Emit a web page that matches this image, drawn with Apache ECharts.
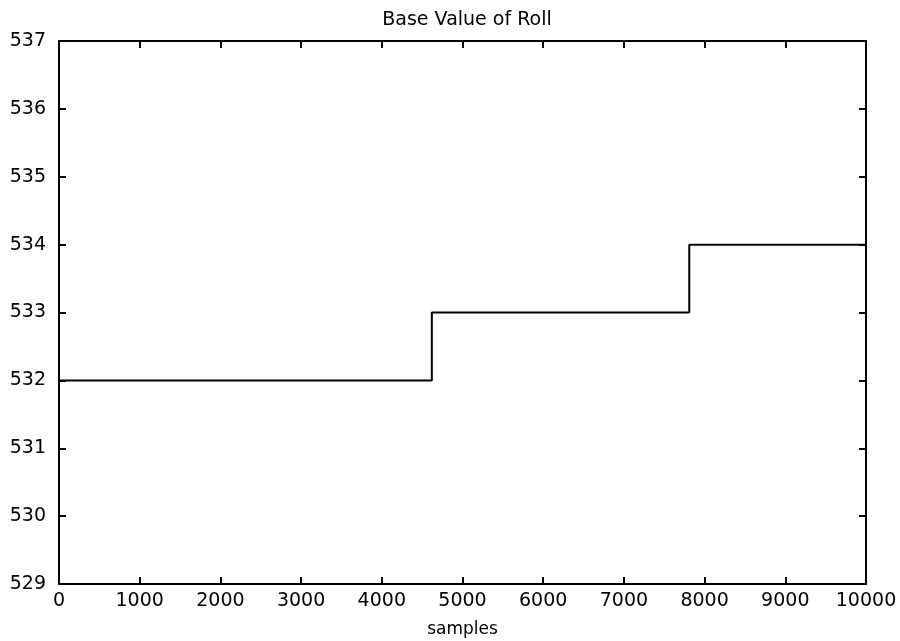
<!DOCTYPE html>
<html>
<head>
<meta charset="utf-8">
<script src="https://cdn.jsdelivr.net/npm/echarts@6/dist/echarts.min.js"></script>
<style>
html,body{margin:0;padding:0;background:#fff;}
#chart{width:900px;height:641px;}
</style>
</head>
<body>
<div id="chart"></div>
<script>
const chartTitle = "Base Value of Roll";
const xAxisName = "samples";
const stepSamples = [0, 4620, 7810, 10000];
const baseValues = [532, 533, 534, 534];
const xTicks = [0, 1000, 2000, 3000, 4000, 5000, 6000, 7000, 8000, 9000, 10000];
const yTicks = [529, 530, 531, 532, 533, 534, 535, 536, 537];

const chart = echarts.init(document.getElementById('chart'), null, {renderer: 'canvas'});
const fontFam = 'DejaVu Sans, sans-serif';
const axisLine = {show: true, onZero: false, lineStyle: {color: '#000', width: 2}};
const axisTick = {show: true, inside: true, length: 7, lineStyle: {color: '#000', width: 2}};

const data = stepSamples.map((x, i) => [x, baseValues[i]]);

chart.setOption({
  animation: false,
  backgroundColor: '#fff',
  title: {
    text: chartTitle,
    left: 462, top: 6, textAlign: 'center',
    textStyle: {fontFamily: fontFam, fontSize: 19, fontWeight: 'normal', color: '#000'}
  },
  grid: {left: 59, right: 34, top: 41, bottom: 57, containLabel: false, outerBoundsMode: 'none'},
  xAxis: [{
    type: 'value', min: xTicks[0], max: xTicks[xTicks.length - 1], interval: 1000,
    position: 'bottom',
    name: xAxisName, nameLocation: 'middle', nameGap: 37,
    nameTextStyle: {fontFamily: fontFam, fontSize: 17, color: '#000'},
    axisLine: axisLine, axisTick: axisTick,
    axisLabel: {fontFamily: fontFam, fontSize: 19, color: '#000', margin: 8, formatter: v => String(v)},
    splitLine: {show: false}
  }, {
    type: 'value', min: xTicks[0], max: xTicks[xTicks.length - 1], interval: 1000,
    position: 'top',
    axisLine: axisLine, axisTick: axisTick,
    axisLabel: {show: false}, splitLine: {show: false}
  }],
  yAxis: [{
    type: 'value', min: yTicks[0], max: yTicks[yTicks.length - 1], interval: 1,
    position: 'left',
    axisLine: axisLine, axisTick: axisTick,
    axisLabel: {fontFamily: fontFam, fontSize: 19, color: '#000', margin: 13, formatter: v => String(v)},
    splitLine: {show: false}
  }, {
    type: 'value', min: yTicks[0], max: yTicks[yTicks.length - 1], interval: 1,
    position: 'right',
    axisLine: axisLine, axisTick: axisTick,
    axisLabel: {show: false}, splitLine: {show: false}
  }],
  series: [{
    type: 'line',
    xAxisIndex: 0, yAxisIndex: 0,
    step: 'end',
    data: data,
    showSymbol: false,
    symbol: 'none',
    lineStyle: {color: '#000', width: 2}
  }]
});
</script>
</body>
</html>
